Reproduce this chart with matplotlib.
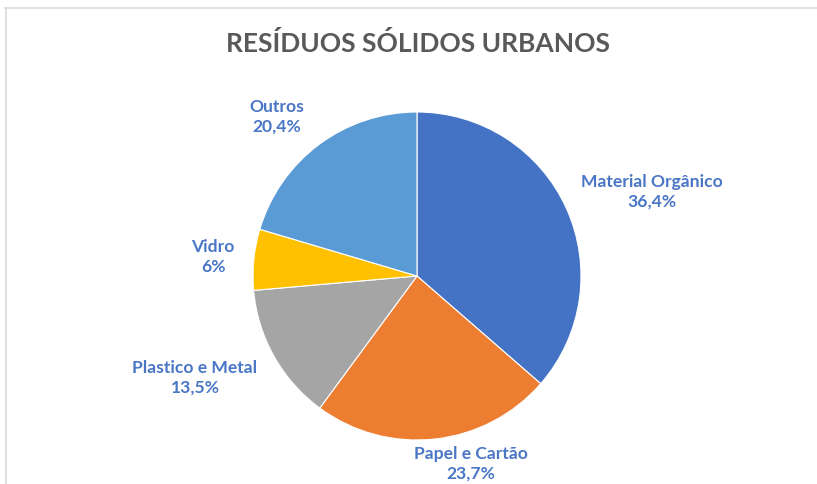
import matplotlib
matplotlib.use("Agg")
import matplotlib.pyplot as plt
from matplotlib.lines import Line2D
import numpy as np

# Waste composition (percent)
categories = ["Material Orgânico", "Papel e Cartão", "Plastico e Metal", "Vidro", "Outros"]
values = [36.4, 23.7, 13.5, 6.0, 20.4]
value_labels = ["36,4%", "23,7%", "13,5%", "6%", "20,4%"]
colors = ["#4472C4", "#ED7D31", "#A5A5A5", "#FFC000", "#5B9BD5"]

title = "RESÍDUOS SÓLIDOS URBANOS"

W, H = 817, 484
fig = plt.figure(figsize=(W / 100, H / 100), dpi=100)

font = ["Lato", "DejaVu Sans"]

# chart frame (top and left edges visible)
fig.add_artist(Line2D([5 / W, 1.0], [1 - 8 / H, 1 - 8 / H], transform=fig.transFigure,
                      color="#D9D9D9", lw=1.2))
fig.add_artist(Line2D([6 / W, 6 / W], [0, 1 - 8 / H], transform=fig.transFigure,
                      color="#D9D9D9", lw=1.2))

# pie in its own axes placed over the figure
cx, cy, r = 417, 276, 164
pax = fig.add_axes([(cx - r) / W, 1 - (cy + r) / H, 2 * r / W, 2 * r / H])
wedges, _ = pax.pie(values, colors=colors, startangle=90, counterclock=False,
                    wedgeprops=dict(edgecolor="white", linewidth=0.8))
pax.set_aspect("equal")
pax.set_xlim(-1, 1)
pax.set_ylim(-1, 1)
pax.axis("off")

# label placement: distance (in radii) and angular nudge per wedge
label_dist = [1.53, 1.17, 1.48, 1.25, 1.31]
label_nudge = [-4.0, 10.0, -5.5, -0.5, 4.0]
label_drop = 0.022
for w, cat, vl, d, nd in zip(wedges, categories, value_labels, label_dist, label_nudge):
    mid = np.deg2rad((w.theta1 + w.theta2) / 2 + nd)
    x, y = d * np.cos(mid), d * np.sin(mid) - label_drop
    pax.text(x, y, f"{cat}\n{vl}", ha="center", va="center", fontsize=12.6,
             fontweight="bold", color="#4A76C6", family=font, linespacing=1.3,
             clip_on=False)

fig.text(0.512, 1 - 43 / H, title, ha="center", va="center", fontsize=19,
         fontweight="bold", color="#595959", family=font)

fig.savefig("out.png", dpi=100, facecolor="white")
